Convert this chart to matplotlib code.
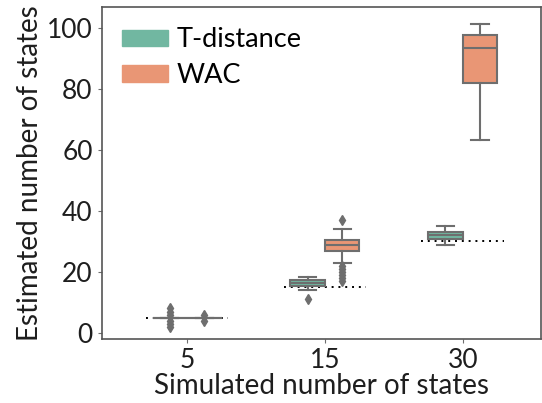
import matplotlib.pyplot as plt
from matplotlib.patches import Patch

plt.rcParams['font.family'] = ['Lato', 'DejaVu Sans']

# simulated number of states (x categories)
categories = ['5', '15', '30']
true_states = [5, 15, 30]

# box summaries per category: median, quartiles, whisker ends, outliers
tdist_med = [5, 16.4, 32.0]
tdist_q1 = [5, 15.5, 30.7]
tdist_q3 = [5, 17.3, 33.2]
tdist_lo = [5, 14.1, 28.8]
tdist_hi = [5, 18.2, 35.1]
tdist_fliers = [[2, 3, 4, 6, 7, 8], [11], []]

wac_med = [5, 29, 93.5]
wac_q1 = [5, 27, 82.2]
wac_q3 = [5, 30.5, 97.7]
wac_lo = [5, 23, 63.4]
wac_hi = [5, 34, 101.5]
wac_fliers = [[4, 6], [17, 18, 19, 20, 21, 22, 37], []]

green = '#71b7a1'
orange = '#e99675'
edge = '#6e6e6e'
text_col = '#1e1e1e'


def make_stats(med, q1, q3, lo, hi, fliers):
    return [dict(med=m, q1=a, q3=b, whislo=l, whishi=h, fliers=f)
            for m, a, b, l, h, f in zip(med, q1, q3, lo, hi, fliers)]


fig = plt.figure(figsize=(5.42, 4.03), dpi=100)
ax = fig.add_axes([0.1876, 0.159, 0.811, 0.8236])

box_w = 0.25
line_kw = dict(color=edge, linewidth=1.5)
for stats, off, col in [
    (make_stats(tdist_med, tdist_q1, tdist_q3, tdist_lo, tdist_hi, tdist_fliers), -0.125, green),
    (make_stats(wac_med, wac_q1, wac_q3, wac_lo, wac_hi, wac_fliers), 0.125, orange),
]:
    pos = [i + off for i in range(len(categories))]
    ax.bxp(stats, positions=pos, widths=box_w, patch_artist=True, manage_ticks=False,
           boxprops=dict(facecolor=col, edgecolor=edge, linewidth=1.5),
           medianprops=line_kw, whiskerprops=line_kw, capprops=line_kw,
           flierprops=dict(marker='d', markerfacecolor=edge, markeredgecolor=edge,
                           markersize=5.5, linestyle='none'))

# true number of states as dotted reference lines, under the boxes
for i, v in enumerate(true_states):
    ax.plot([i - 0.3, i + 0.3], [v, v], color='black', linestyle=(0, (1, 2.5)),
            linewidth=1.4, zorder=1.5)

ax.set_xlim(-0.62, 2.57)
ax.set_ylim(-2, 107)
ax.set_xticks(range(len(categories)))
ax.set_xticklabels(categories)
ax.set_yticks([0, 20, 40, 60, 80, 100])
ax.tick_params(axis='both', labelsize=19, length=3, colors=edge, labelcolor=text_col)
for s in ax.spines.values():
    s.set_color('#555555')
    s.set_linewidth(1.2)

ax.set_xlabel('Simulated number of states', fontsize=20, color=text_col, labelpad=0)
ax.set_ylabel('Estimated number of states', fontsize=20, color=text_col, labelpad=3)

handles = [Patch(facecolor=green, edgecolor=green, label='T-distance'),
           Patch(facecolor=orange, edgecolor=orange, label='WAC')]
ax.legend(handles=handles, loc='upper left', frameon=False, fontsize=19.5,
          handlelength=1.7, handleheight=0.55, handletextpad=0.3,
          labelspacing=0.4, borderaxespad=0.35, bbox_to_anchor=(0.0, 1.0))

fig.savefig('out.png', dpi=100)
